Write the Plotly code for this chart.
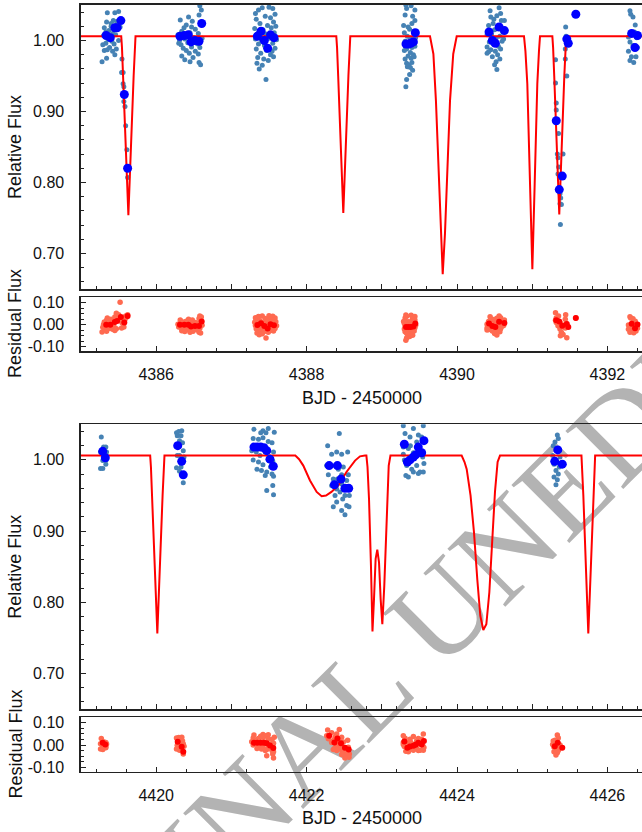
import plotly.graph_objects as go

# ---------------- DATA (top window) ----------------
top_small_t = [
    4385.35,4385.45,4385.50,4385.43,4385.48,4385.34,4385.31,4385.40,4385.44,4385.47,4385.33,4385.37,4385.42,4385.52,4385.30,4385.39,4385.46,4385.36,4385.41,4385.29,4385.33,4385.44,4385.38,4385.47,4385.31,4385.35,4385.42,4385.45,4385.28,4385.34,4385.50,4385.40,4385.545,4385.54,4385.56,4385.56,4385.57,4385.57,4385.585,4385.594,4385.61,4385.62,
    4386.58,4386.60,4386.57,4386.32,4386.43,4386.37,4386.47,4386.34,4386.52,4386.40,4386.56,4386.29,4386.45,4386.31,4386.38,4386.50,4386.42,4386.55,4386.33,4386.47,4386.36,4386.58,4386.40,4386.52,4386.44,4386.56,4386.34,4386.38,4386.45,4386.57,4386.59,4386.49,4386.30,4386.61,4386.48,
    4387.32,4387.36,4387.41,4387.50,4387.55,4387.33,4387.45,4387.52,4387.58,4387.38,4387.48,4387.56,4387.31,4387.42,4387.53,4387.59,4387.35,4387.46,4387.57,4387.32,4387.40,4387.50,4387.60,4387.36,4387.44,4387.55,4387.33,4387.47,4387.58,4387.39,4387.52,4387.35,4387.43,4387.56,4387.34,4387.41,4387.49,4387.46,4387.37,4387.54,
    4389.32,4389.39,4389.33,4389.44,4389.31,4389.41,4389.44,4389.40,4389.35,4389.37,4389.30,4389.43,4389.34,4389.38,4389.42,4389.31,4389.36,4389.40,4389.44,4389.30,4389.33,4389.38,4389.42,4389.35,4389.31,4389.39,4389.43,4389.33,4389.36,4389.40,4389.34,4389.38,4389.37,4389.33,4389.32,4389.45,4389.29,4389.41,
    4390.44,4390.56,4390.58,4390.45,4390.53,4390.48,4390.59,4390.63,4390.42,4390.55,4390.50,4390.61,4390.40,4390.46,4390.57,4390.52,4390.43,4390.60,4390.48,4390.55,4390.40,4390.45,4390.58,4390.51,4390.42,4390.54,4390.47,4390.40,4390.57,4390.52,4390.50,4390.53,4390.62,4390.49,
    4391.31,4391.31,4391.32,4391.32,4391.35,4391.334,4391.343,4391.41,4391.352,4391.343,4391.37,4391.379,4391.37,4391.388,4391.375,4391.445,4391.44,4391.44,4391.46,4391.58,4391.45,
    4392.30,4392.31,4392.34,4392.37,4392.28,4392.30,4392.34,4392.32,4392.30,4392.35,4392.38,4392.39,4392.36,4392.28,4392.40,
]
top_small_f = [
    1.039,1.039,1.041,1.028,1.027,1.026,1.018,1.020,1.016,1.022,1.012,1.014,1.010,1.019,1.007,1.006,1.008,1.001,0.999,0.994,0.996,0.995,0.990,0.988,0.986,0.987,0.985,0.980,0.970,0.975,1.000,1.024,0.974,0.955,0.955,0.939,0.935,0.914,0.907,0.880,0.846,0.807,
    1.049,1.043,1.036,1.029,1.033,1.018,1.019,1.013,1.016,1.022,1.010,1.008,1.011,1.000,1.002,1.004,0.997,0.995,0.994,0.991,0.989,0.990,0.986,0.985,0.982,0.981,0.978,0.973,0.970,0.969,0.966,0.976,0.996,1.003,1.027,
    1.038,1.043,1.046,1.047,1.045,1.030,1.034,1.032,1.037,1.024,1.021,1.026,1.017,1.015,1.018,1.020,1.010,1.009,1.011,1.002,1.000,1.003,1.001,0.995,0.993,0.996,0.988,0.986,0.989,0.982,0.980,0.976,0.974,0.977,0.968,0.965,0.972,0.945,0.960,0.985,
    1.050,1.049,1.045,1.043,1.036,1.034,1.028,1.024,1.019,1.016,1.011,1.013,1.006,1.003,1.001,0.999,0.994,0.990,0.992,0.986,0.988,0.983,0.980,0.978,0.974,0.975,0.977,0.968,0.966,0.969,0.963,0.962,0.952,0.945,0.935,1.004,1.021,0.958,
    1.042,1.046,1.038,1.033,1.035,1.024,1.028,1.028,1.021,1.019,1.015,1.012,1.008,1.009,1.006,1.003,0.998,0.999,0.995,0.992,0.991,0.987,0.988,0.985,0.984,0.980,0.977,0.982,0.974,0.970,0.966,0.959,1.002,1.030,
    0.973,0.940,0.912,0.902,0.869,0.840,0.835,0.840,0.822,0.812,0.784,0.778,0.770,0.769,0.741,1.019,0.988,0.974,0.950,1.037,1.006,
    1.042,1.037,1.033,1.022,1.005,0.998,0.993,0.977,0.972,0.969,0.977,1.004,1.012,0.985,0.990,
]
top_small_r = [
    0.030,0.035,0.045,0.022,0.028,0.020,0.012,0.015,0.010,0.052,0.006,0.008,0.004,0.102,0.001,0.000,0.018,-0.005,-0.008,-0.012,-0.010,-0.011,-0.016,-0.018,-0.020,-0.019,-0.021,-0.026,-0.033,-0.030,0.030,0.025,0.010,-0.015,0.020,0.005,0.015,-0.010,0.025,0.040,0.035,0.045,
    0.040,0.035,0.028,0.022,0.025,0.012,0.013,0.007,0.010,0.016,0.004,0.002,0.005,-0.006,-0.004,-0.002,-0.009,-0.011,-0.012,-0.015,-0.017,-0.016,-0.020,-0.021,-0.024,-0.025,-0.028,-0.031,-0.034,-0.035,-0.038,-0.030,-0.010,-0.003,0.021,
    0.032,0.037,0.040,0.041,0.039,0.024,0.028,0.026,0.031,0.018,0.015,0.020,0.011,0.009,0.012,0.014,0.004,0.003,0.005,-0.004,-0.006,-0.003,-0.005,-0.011,-0.013,-0.010,-0.018,-0.020,-0.017,-0.024,-0.026,-0.030,-0.032,-0.029,-0.038,-0.041,-0.034,-0.061,-0.046,-0.021,
    0.044,0.043,0.039,0.037,0.030,0.028,0.022,0.018,0.013,0.010,0.005,0.007,0.000,-0.003,-0.005,-0.007,-0.012,-0.016,-0.014,-0.020,-0.018,-0.023,-0.026,-0.028,-0.032,-0.031,-0.029,-0.038,-0.040,-0.037,-0.043,-0.044,-0.054,-0.061,-0.071,-0.002,0.015,-0.048,
    0.036,0.040,0.032,0.027,0.029,0.018,0.022,0.022,0.015,0.013,0.009,0.006,0.002,0.003,0.000,-0.003,-0.008,-0.007,-0.011,-0.014,-0.015,-0.019,-0.018,-0.021,-0.022,-0.026,-0.029,-0.024,-0.032,-0.036,-0.040,-0.047,-0.004,0.024,
    0.020,0.055,0.030,0.010,0.040,0.020,-0.005,-0.045,0.000,0.015,-0.010,0.005,-0.020,-0.035,-0.050,0.045,0.025,-0.015,-0.060,0.030,0.005,
    0.036,0.031,0.027,0.016,-0.001,-0.008,-0.013,-0.029,-0.034,-0.037,-0.029,-0.002,0.006,-0.021,-0.016,
]
top_big_t = [4385.335,4385.39,4385.45,4385.48,4385.53,4385.576,4385.62,
             4386.316,4386.374,4386.427,4386.463,4386.516,4386.569,4386.605,
             4387.345,4387.394,4387.438,4387.482,4387.52,4387.566,
             4389.322,4389.353,4389.384,4389.42,4389.446,
             4390.426,4390.47,4390.51,4390.56,4390.63,
             4391.32,4391.40,4391.36,4391.46,4391.48,4391.58,
             4392.323,4392.40,4392.367]
top_big_f = [1.007,1.004,1.018,1.018,1.028,0.924,0.820,
             1.006,1.007,1.008,0.998,1.000,0.999,1.024,
             1.006,1.013,1.000,0.989,1.008,1.004,
             0.995,0.995,0.996,0.998,1.011,
             1.012,1.000,0.996,1.019,1.014,
             0.887,0.809,0.790,1.002,0.996,1.037,
             1.010,1.007,0.990]
top_big_r = [0.000,0.000,0.012,0.017,0.035,0.010,0.040,
             0.000,0.000,0.000,-0.008,-0.006,-0.006,0.015,
             -0.001,0.007,-0.006,-0.017,0.002,-0.002,
             -0.011,-0.011,-0.010,-0.008,0.005,
             0.006,-0.006,-0.010,0.013,0.008,
             0.020,-0.005,0.015,0.003,-0.010,0.030,
             0.004,0.001,-0.016]
top_model_t = [4385.0,
               4385.535,4385.545,4385.56,4385.63,4385.70,4385.715,4385.725,
               4388.395,4388.405,4388.42,4388.488,4388.556,4388.571,4388.581,
               4389.641,4389.665,4389.686,4389.72,4389.752,4389.783,4389.81,4389.84,4389.871,4389.907,4389.95,4389.975,4389.996,
               4390.891,4390.91,4390.935,4390.971,4391.002,4391.033,4391.068,4391.09,4391.104,
               4391.268,4391.278,4391.293,4391.36,4391.427,4391.442,4391.452,
               4393.0]
top_model_f = [1.006,
               1.006,0.990,0.950,0.754,0.950,0.990,1.006,
               1.006,0.990,0.950,0.757,0.950,0.990,1.006,
               1.006,0.995,0.981,0.915,0.822,0.728,0.671,0.728,0.822,0.915,0.981,0.998,1.006,
               1.006,0.985,0.939,0.798,0.678,0.798,0.939,0.985,1.006,
               1.006,0.990,0.950,0.755,0.950,0.990,1.006,
               1.006]

# ---------------- DATA (bottom window) ----------------
bot_small_t = [
    4419.27,4419.30,4419.33,4419.26,4419.31,4419.34,4419.29,4419.33,4419.26,4419.29,4419.33,4419.31,
    4420.27,4420.30,4420.34,4420.28,4420.33,4420.31,4420.36,4420.28,4420.31,4420.37,4420.34,4420.27,4420.33,4420.31,4420.36,4420.29,4420.35,
    4421.30,4421.42,4421.49,4421.57,4421.39,4421.46,4421.29,4421.36,4421.42,4421.49,4421.54,4421.27,4421.33,4421.38,4421.45,4421.51,4421.56,4421.29,4421.36,4421.42,4421.49,4421.55,4421.34,4421.40,4421.47,4421.54,4421.56,4421.45,4421.47,4421.55,4421.56,4421.31,4421.52,
    4422.435,4422.28,4422.333,4422.40,4422.466,4422.546,4422.267,4422.378,4422.422,4422.488,4422.289,4422.355,4422.41,4422.466,4422.555,4422.333,4422.40,4422.466,4422.533,4422.378,4422.444,4422.51,4422.568,4422.355,4422.48,4422.533,4422.564,4422.51,4422.466,4422.40,
    4423.286,4423.42,4423.552,4423.309,4423.375,4423.486,4423.286,4423.353,4423.464,4423.53,4423.286,4423.42,4423.544,4423.331,4423.398,4423.464,4423.508,4423.353,4423.42,4423.486,4423.552,4423.32,4423.30,4423.50,4423.56,4423.38,
    4425.334,4425.347,4425.303,4425.28,4425.334,4425.272,4425.37,4425.29,4425.36,4425.316,4425.347,4425.29,4425.334,4425.316,
]
bot_small_f = [
    1.032,1.018,1.018,1.011,1.009,1.011,0.999,0.999,0.988,0.988,0.994,1.004,
    1.038,1.040,1.041,1.034,1.034,1.027,1.013,1.006,1.006,1.004,0.996,0.989,0.990,0.984,0.968,1.020,1.024,
    1.043,1.041,1.044,1.039,1.038,1.038,1.030,1.029,1.031,1.026,1.024,1.013,1.011,1.006,1.011,1.004,1.011,1.000,0.997,0.993,1.000,0.998,0.987,0.985,0.983,0.980,0.977,0.978,0.957,0.964,0.951,1.020,0.990,
    1.037,1.020,1.008,1.011,1.008,1.011,0.992,0.992,0.987,0.990,0.979,0.973,0.973,0.979,0.979,0.964,0.959,0.966,0.971,0.950,0.955,0.950,0.950,0.934,0.945,0.936,0.934,0.923,0.929,0.941,
    1.048,1.044,1.048,1.037,1.032,1.035,1.018,1.016,1.025,1.032,1.008,1.010,1.004,0.992,0.987,0.992,0.983,0.976,0.983,0.981,0.983,0.978,1.000,1.012,0.995,1.020,
    1.035,1.030,1.025,1.020,1.015,1.006,1.004,0.994,0.990,0.985,0.980,0.976,0.972,0.965,
]
bot_small_r = [
    0.030,0.015,0.012,0.006,0.003,0.005,-0.006,-0.007,-0.018,-0.020,-0.012,-0.002,
    0.032,0.034,0.035,0.028,0.026,0.020,0.005,-0.001,-0.002,-0.005,-0.012,-0.018,-0.017,-0.023,-0.040,0.013,0.018,
    0.045,0.048,0.046,0.035,0.040,0.042,0.032,0.030,0.034,0.028,0.025,0.015,0.012,0.006,0.013,0.004,0.008,0.000,-0.004,-0.008,0.000,-0.005,-0.016,-0.018,-0.020,-0.024,-0.030,-0.025,-0.048,-0.040,-0.058,0.022,-0.014,
    0.070,0.068,0.055,0.050,0.035,0.022,0.042,0.035,0.024,0.014,0.028,0.020,0.008,0.005,-0.010,0.012,-0.005,-0.008,-0.015,-0.012,-0.018,-0.030,-0.040,-0.020,-0.030,-0.045,-0.055,-0.058,-0.042,-0.025,
    0.042,0.038,0.050,0.031,0.026,0.029,0.012,0.010,0.019,0.026,0.002,0.004,-0.002,-0.014,-0.019,-0.014,-0.023,-0.030,-0.023,-0.025,-0.023,-0.028,-0.006,0.006,-0.011,0.014,
    0.045,0.032,0.022,0.018,0.012,0.002,0.000,-0.010,-0.015,-0.020,-0.025,-0.030,-0.035,-0.045,
]
bot_big_t = [4419.289,4419.323,
             4420.286,4420.339,4420.36,
             4421.30,4421.344,4421.39,4421.433,4421.47,4421.513,4421.557,
             4422.30,4422.41,4422.457,4422.37,4422.51,4422.56,
             4423.30,4423.34,4423.375,4423.42,4423.45,4423.485,4423.53,4423.56,
             4425.34,4425.30,4425.40]
bot_big_f = [1.012,1.003,
             1.020,0.998,0.979,
             1.018,1.018,1.018,1.017,1.013,1.001,0.991,
             0.992,0.992,0.973,0.965,0.960,0.960,
             1.022,0.997,1.000,1.004,1.007,1.018,1.010,1.027,
             1.014,0.998,0.994]
bot_big_r = [0.010,0.003,
             0.015,-0.008,-0.030,
             0.010,0.010,0.010,0.010,0.008,-0.002,-0.013,
             0.042,0.030,0.008,0.012,-0.012,-0.020,
             0.016,-0.012,-0.007,-0.003,0.001,0.010,0.003,0.018,
             0.010,-0.005,-0.012]
bot_model_t = [4419.0,
               4419.92,4419.93,4419.945,4420.015,4420.085,4420.10,4420.11,
               4421.85,4421.90,4421.956,4422.045,4422.134,4422.20,4422.258,4422.33,4422.42,4422.53,4422.644,4422.71,4422.777,
               4422.795,4422.81,4422.83,4422.856,4422.876,4422.896,4422.918,4422.94,4422.963,4422.985,4423.007,4423.033,4423.065,4423.092,4423.115,
               4424.062,4424.10,4424.129,4424.18,4424.226,4424.27,4424.31,4424.35,4424.39,4424.43,4424.47,4424.505,4424.54,4424.572,
               4425.655,4425.665,4425.68,4425.746,4425.812,4425.827,4425.837,
               4427.0]
bot_model_f = [1.006,
               1.006,0.990,0.950,0.756,0.950,0.990,1.006,
               1.006,1.001,0.992,0.971,0.955,0.949,0.950,0.955,0.964,0.983,0.999,1.005,1.006,
               1.006,0.990,0.945,0.851,0.759,0.804,0.861,0.874,0.856,0.804,0.769,0.823,0.922,0.992,1.006,
               1.006,0.997,0.987,0.950,0.898,0.832,0.781,0.761,0.769,0.814,0.893,0.955,0.997,1.006,
               1.006,0.990,0.950,0.756,0.950,0.990,1.006,
               1.006]

y_main_ticks = [0.70, 0.80, 0.90, 1.00]
y_main_labels = ["0.70", "0.80", "0.90", "1.00"]
y_res_ticks = [-0.10, 0.00, 0.10]
y_res_labels = ["-0.10", "0.00", "0.10"]
watermark_text = "ORIGINAL UNEDITED MANUSCRIPT"

# ---------------- FIGURE ----------------
W, H = 642, 832
X0 = 81 / W
AX = "#222222"
SMALL = "#4682b4"
BIG = "#0000ff"
RSMALL = "#ff6a50"
RBIG = "#ff0000"
MODEL = "#ff0000"

def dom(top_px, bot_px):
    return [1 - bot_px / H, 1 - top_px / H]

fig = go.Figure()

def add_panel(ts, fs, rs, tb, fb, rb, mt, mf, xa_main, ya_main, xa_res, ya_res):
    n = min(len(ts), len(fs), len(rs))
    m = min(len(tb), len(fb), len(rb))
    fig.add_trace(go.Scatter(x=ts[:n], y=fs[:n], mode="markers", xaxis=xa_main, yaxis=ya_main,
                             marker=dict(color=SMALL, size=5, line=dict(width=0)), showlegend=False, hoverinfo="skip"))
    fig.add_trace(go.Scatter(x=mt, y=mf, mode="lines", xaxis=xa_main, yaxis=ya_main,
                             line=dict(color=MODEL, width=2), showlegend=False, hoverinfo="skip"))
    fig.add_trace(go.Scatter(x=tb[:m], y=fb[:m], mode="markers", xaxis=xa_main, yaxis=ya_main,
                             marker=dict(color=BIG, size=9, line=dict(width=0)), showlegend=False, hoverinfo="skip"))
    fig.add_trace(go.Scatter(x=ts[:n], y=rs[:n], mode="markers", xaxis=xa_res, yaxis=ya_res,
                             marker=dict(color=RSMALL, size=5.5, line=dict(width=0)), showlegend=False, hoverinfo="skip"))
    fig.add_trace(go.Scatter(x=tb[:m], y=rb[:m], mode="markers", xaxis=xa_res, yaxis=ya_res,
                             marker=dict(color=RBIG, size=6, line=dict(width=0)), showlegend=False, hoverinfo="skip"))

add_panel(top_small_t, top_small_f, top_small_r, top_big_t, top_big_f, top_big_r,
          top_model_t, top_model_f, "x", "y", "x2", "y2")
add_panel(bot_small_t, bot_small_f, bot_small_r, bot_big_t, bot_big_f, bot_big_r,
          bot_model_t, bot_model_f, "x3", "y3", "x4", "y4")

TICKFONT = dict(family="Liberation Sans, Arial, sans-serif", size=16, color="#111111")

def xaxis_cfg(rng, labels, dtick, tick0, minor_dt):
    return dict(domain=[X0, 1], range=rng, showline=True, mirror=True, linecolor=AX, linewidth=1.6,
                ticks="inside", ticklen=5, tickwidth=1, tickcolor=AX, dtick=dtick, tick0=tick0,
                minor=dict(ticks="inside", ticklen=3, tickwidth=1, tickcolor=AX, dtick=minor_dt, tick0=tick0),
                showticklabels=labels, tickfont=TICKFONT, showgrid=False, zeroline=False,
                ticklabelstandoff=8, fixedrange=True, automargin=False)

def yaxis_cfg(d, rng, tv, tt, minor_dt, anchor):
    return dict(domain=d, range=rng, showline=True, mirror=False, linecolor=AX, linewidth=1.6,
                ticks="inside", ticklen=5, tickwidth=1, tickcolor=AX, tickvals=tv, ticktext=tt,
                minor=dict(ticks="inside", ticklen=3, tickwidth=1, tickcolor=AX, dtick=minor_dt, tick0=0),
                tickfont=TICKFONT, showgrid=False, zeroline=False, anchor=anchor,
                ticklabelstandoff=12, fixedrange=True, automargin=False)

top_range = [4385.0, 4385.0 + (W - 81) / 75.2]
bot_range = [4419.0, 4419.0 + (W - 81) / 75.2]

fig.update_layout(
    width=W, height=H, margin=dict(l=0, r=0, t=0, b=0, autoexpand=False),
    paper_bgcolor="white", plot_bgcolor="white",
    xaxis=dict(**xaxis_cfg(top_range, False, 1, 4385, 0.2), anchor="y"),
    xaxis2=dict(**xaxis_cfg(top_range, True, 2, 4386, 0.4), anchor="y2"),
    xaxis3=dict(**xaxis_cfg(bot_range, False, 1, 4419, 0.2), anchor="y3"),
    xaxis4=dict(**xaxis_cfg(bot_range, True, 2, 4420, 0.4), anchor="y4"),
    yaxis=yaxis_cfg(dom(5, 289), [0.65, 1.05], y_main_ticks, y_main_labels, 0.02, "x"),
    yaxis2=yaxis_cfg(dom(297.3, 351), [-0.12, 0.125], y_res_ticks, y_res_labels, 0.025, "x2"),
    yaxis3=yaxis_cfg(dom(424.3, 709), [0.65, 1.05], y_main_ticks, y_main_labels, 0.02, "x3"),
    yaxis4=yaxis_cfg(dom(717.3, 771.7), [-0.12, 0.125], y_res_ticks, y_res_labels, 0.025, "x4"),
)

TITLEFONT = dict(family="Liberation Sans, Arial, sans-serif", size=18, color="#111111")
def ann(text, xp, yp, angle=0):
    fig.add_annotation(text=text, x=xp / W, y=1 - yp / H, xref="paper", yref="paper",
                       showarrow=False, textangle=angle, font=TITLEFONT,
                       xanchor="center", yanchor="middle")

ann("Relative Flux", 15, 147, -90)
ann("Residual Flux", 15, 324, -90)
ann("BJD - 2450000", 361.5, 397.5)
ann("Relative Flux", 15, 566.7, -90)
ann("Residual Flux", 15, 744.5, -90)
ann("BJD - 2450000", 361.5, 817.5)

# watermark (drawn below the data)
cx, cy, L = 695.7, 337.3, 420
fig.add_shape(type="line", xref="paper", yref="paper", layer="below",
              x0=(cx - L) / W, y0=1 - (cy + L) / H, x1=(cx + L) / W, y1=1 - (cy - L) / H,
              line=dict(color="rgba(0,0,0,0)", width=0),
              label=dict(text=watermark_text, textposition="middle", yanchor="middle", padding=0,
                         font=dict(family="Liberation Serif, Times New Roman, serif", size=125, color="#b3b3b3")))

fig.write_html("out.html",
               config={"displayModeBar": False, "staticPlot": True},
               post_script="document.body.style.margin='0';document.body.style.padding='0';"
                           "document.body.style.overflow='hidden';")
